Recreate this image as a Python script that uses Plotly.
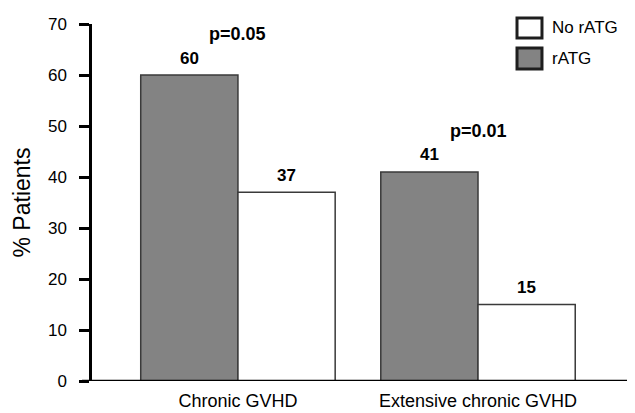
import plotly.graph_objects as go

categories = ["Chronic GVHD", "Extensive chronic GVHD"]
ratg = [60, 41]
no_ratg = [37, 15]
p_labels = ["p=0.05", "p=0.01"]
y_ticks = [0, 10, 20, 30, 40, 50, 60, 70]

FONT = "Liberation Sans, Arial, sans-serif"
GRAY = "#838383"
EDGE = "#3a3a3a"
BARGAP = 0.19
PAGE = 8  # default body margin of the html page

fig = go.Figure()
fig.add_trace(go.Bar(x=categories, y=ratg, name="rATG",
                     marker=dict(color=GRAY, line=dict(color=EDGE, width=1.5))))
fig.add_trace(go.Bar(x=categories, y=no_ratg, name="No rATG",
                     marker=dict(color="white", line=dict(color=EDGE, width=1.5))))

off = (1 - BARGAP) / 4
ann = []
for i, cat in enumerate(categories):
    for val, sgn in ((ratg[i], -1), (no_ratg[i], 1)):
        ann.append(dict(x=i + sgn * off, y=val, xref="x", yref="y", text=f"<b>{val}</b>",
                        showarrow=False, yanchor="middle", yshift=17,
                        font=dict(family=FONT, size=17, color="black")))
    ann.append(dict(x=i, y=max(ratg[i], no_ratg[i]), xref="x", yref="y",
                    text=f"<b>{p_labels[i]}</b>", showarrow=False, yanchor="middle",
                    yshift=41, font=dict(family=FONT, size=18, color="black")))

# manual legend
leg = [("No rATG", "white", 1.0168, 0.9608), ("rATG", GRAY, 0.9328, 0.8739)]
shapes = []
for name, col, y0, y1 in leg:
    shapes.append(dict(type="rect", xref="paper", yref="paper", x0=0.7827, x1=0.8287,
                       y0=y1, y1=y0, fillcolor=col, line=dict(color="#1e1e1e", width=3)))
    ann.append(dict(x=0.8435, y=(y0 + y1) / 2, xref="paper", yref="paper", text=name,
                    showarrow=False, xanchor="left", yanchor="middle",
                    font=dict(family=FONT, size=17, color="black")))

# x axis baseline extended left to the tick ends
shapes.append(dict(type="line", xref="paper", yref="y", x0=-0.0184, x1=1, y0=0, y1=0,
                   line=dict(color="black", width=2.5)))

fig.update_layout(
    width=635 - PAGE, height=413 - PAGE,
    margin=dict(l=92 - PAGE, r=0, t=24 - PAGE, b=32, autoexpand=False),
    paper_bgcolor="white", plot_bgcolor="white",
    barmode="group", bargap=BARGAP, bargroupgap=0,
    showlegend=False,
    annotations=ann, shapes=shapes,
    font=dict(family=FONT, color="black"),
)
fig.update_xaxes(range=[-0.608, 1.654], showline=False, showgrid=False, ticks="", automargin=False,
                 tickfont=dict(family=FONT, size=18, color="black"), ticklabelstandoff=7)
fig.update_yaxes(range=[0, 70], tickvals=y_ticks, showline=True, linecolor="black", linewidth=2.5,
                 ticks="outside", ticklen=10, tickwidth=2.5, tickcolor="black",
                 showgrid=False, zeroline=False, automargin=False,
                 tickfont=dict(family=FONT, size=17, color="black"),
                 tickprefix="<b>", ticksuffix="</b>", ticklabelstandoff=9,
                 title=dict(text="% Patients", font=dict(family=FONT, size=23, color="black"), standoff=11))

fig.write_html("out.html")
